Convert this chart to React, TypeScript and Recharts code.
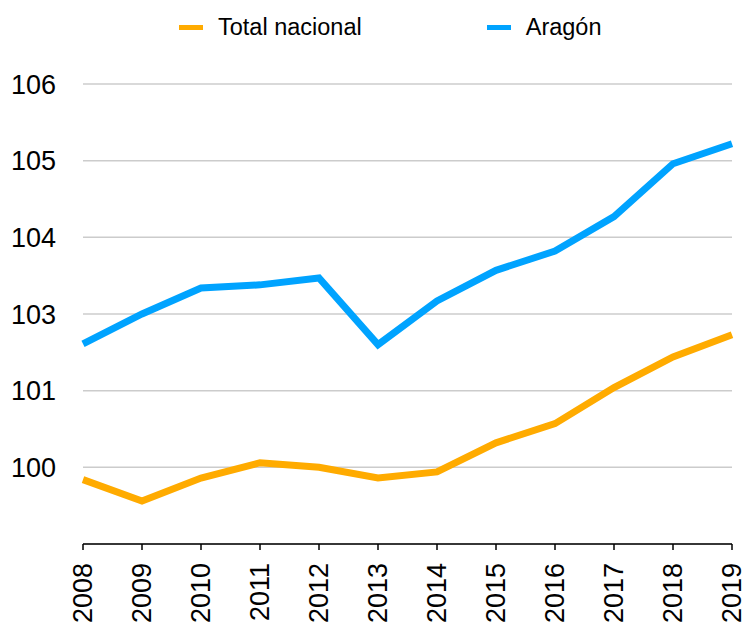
import { LineChart, Line, XAxis, YAxis, CartesianGrid, Legend } from 'recharts';

const YEARS = ['2008', '2009', '2010', '2011', '2012', '2013', '2014', '2015', '2016', '2017', '2018', '2019'];
const TOTAL_NACIONAL = [100.84, 100.56, 100.86, 101.06, 101.0, 100.86, 100.94, 101.32, 101.57, 102.04, 102.44, 102.73];
const ARAGON = [102.61, 103.0, 103.34, 103.38, 103.47, 102.6, 103.17, 103.57, 103.82, 104.27, 104.96, 105.22];

// the source chart labels its gridlines like this (102 is skipped)
const Y_TICKS = [101, 102, 103, 104, 105, 106];
const Y_TICK_LABELS = ['100', '101', '103', '104', '105', '106'];

const SERIES = [
  { key: 'total', name: 'Total nacional', color: '#ffab00' },
  { key: 'aragon', name: 'Aragón', color: '#00a3ff' },
];

const data = YEARS.map((year, i) => ({
  year,
  total: TOTAL_NACIONAL[i],
  aragon: ARAGON[i],
}));

const FONT = '"Liberation Sans", Arial, Helvetica, sans-serif';

const YearTick = ({ x, y, payload }: any) => (
  <g transform={`translate(${x},${y})`}>
    <text
      transform="rotate(-90)"
      textAnchor="end"
      dominantBaseline="central"
      fontSize={27}
      fontFamily={FONT}
      fill="#000"
    >
      {payload.value}
    </text>
  </g>
);

const LegendContent = () => (
  <div style={{ height: 84, position: 'relative', fontFamily: FONT, fontSize: 23.5, color: '#000' }}>
    <div style={{ display: 'flex', alignItems: 'center', paddingLeft: 179, paddingTop: 14 }}>
      {SERIES.map((s, i) => (
        <div key={s.key} style={{ display: 'flex', alignItems: 'center', marginRight: i === 0 ? 125 : 0 }}>
          <span style={{ width: 24, height: 5, backgroundColor: s.color, marginRight: 15 }} />
          <span>{s.name}</span>
        </div>
      ))}
    </div>
  </div>
);

export default function App() {
  return (
    <div style={{ position: 'absolute', left: 0, top: 0, width: 744, height: 626, background: '#fff' }}>
      <LineChart width={744} height={626} data={data} margin={{ top: 0, right: 12, bottom: 0, left: 0 }}>
        <CartesianGrid horizontal vertical={false} stroke="#cccccc" strokeWidth={1.5} />
        <XAxis
          dataKey="year"
          height={82}
          tick={<YearTick />}
          tickSize={6}
          tickMargin={13}
          axisLine={{ stroke: '#000', strokeWidth: 1.5 }}
          tickLine={{ stroke: '#000', strokeWidth: 1.5 }}
          interval={0}
        />
        <YAxis
          type="number"
          domain={[100, 106]}
          ticks={Y_TICKS}
          tickFormatter={(v: number) => Y_TICK_LABELS[Y_TICKS.indexOf(v)]}
          width={83}
          axisLine={false}
          tickLine={false}
          tickSize={0}
          tickMargin={27}
          tick={{ fontSize: 27, fontFamily: FONT, fill: '#000' }}
        />
        <Legend verticalAlign="top" content={<LegendContent />} />
        {SERIES.map((s) => (
          <Line
            key={s.key}
            type="linear"
            dataKey={s.key}
            name={s.name}
            stroke={s.color}
            strokeWidth={7}
            dot={false}
            activeDot={false}
            isAnimationActive={false}
          />
        ))}
      </LineChart>
    </div>
  );
}
